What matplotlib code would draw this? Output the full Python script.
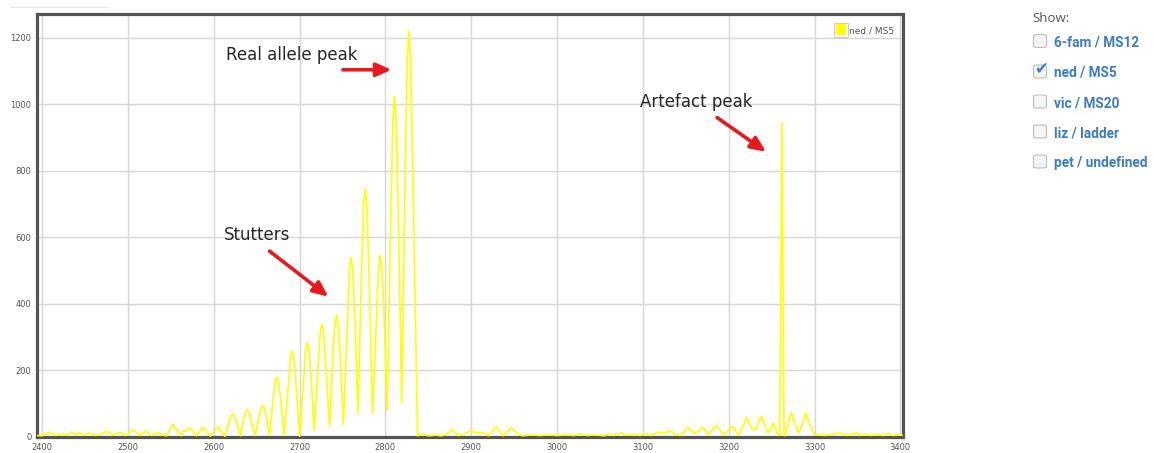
import matplotlib
matplotlib.use("Agg")
import matplotlib.pyplot as plt
from matplotlib.patches import FancyBboxPatch, Rectangle
from matplotlib.lines import Line2D

# ---- data, trace split by region ----
# baseline noise before the stutter ladder
noise_left_bp = [2394, 2400, 2408, 2416, 2424, 2429, 2434, 2439, 2443, 2449, 2455, 2462, 2468,
                 2475, 2482, 2490, 2497, 2506, 2514, 2521, 2528, 2535, 2541, 2545, 2552, 2562,
                 2564, 2567, 2572, 2580, 2587, 2596, 2605, 2613]
noise_left_rfu = [3, 2, 13, 3, 8, 3, 13, 5, 11, 4, 10, 3, 6,
                  16, 4, 13, 3, 20, 3, 16, 3, 11, 4, 2, 36, 2,
                  18, 17, 26, 2, 28, 1, 30, 0]

# stutter peaks and the real allele peak
stutter_bp = [2617.5, 2620, 2622, 2624, 2626.5, 2631,
              2634.5, 2637, 2639, 2641, 2643.5, 2648,
              2652.5, 2655, 2657, 2659, 2661.5, 2665,
              2669, 2671.5, 2673.5, 2675.5, 2678, 2682,
              2687, 2689.4, 2691.4, 2693.4, 2696, 2700,
              2704.5, 2707, 2709, 2711, 2713.5, 2717,
              2721.5, 2724, 2726, 2728, 2730.5, 2735,
              2738.5, 2741, 2743, 2745, 2747.5, 2751,
              2755.5, 2758, 2760, 2762, 2764.5, 2768,
              2772, 2774.5, 2776.5, 2778.5, 2781, 2785,
              2789.5, 2792, 2794, 2796, 2798.5, 2802,
              2806.1, 2808.6, 2810.6, 2812.6, 2815.1, 2819,
              2822.9, 2825.4, 2827.4, 2829.4, 2832.4, 2837.4]
stutter_rfu = [41, 63, 68, 63, 42, 2,
               49, 74, 80, 74, 49, 3,
               57, 86, 93, 86, 57, 3,
               109, 165, 179, 165, 109, 3,
               155, 237, 257, 236, 154, 0,
               169, 259, 282, 261, 176, 18,
               210, 312, 338, 313, 215, 30,
               231, 338, 365, 339, 233, 36,
               338, 499, 539, 502, 351, 68,
               475, 693, 747, 693, 476, 70,
               356, 508, 546, 509, 359, 78,
               646, 949, 1025, 951, 656, 102,
               773, 1131, 1221, 1123, 733, 2]

# baseline noise between the allele and the artefact
noise_mid_bp = [2841, 2844, 2850, 2858, 2866, 2872, 2877.5, 2885, 2892, 2899.6, 2905, 2910,
                2915, 2920, 2929, 2937, 2947, 2955, 2960, 2970, 2980, 2990, 3000, 3010,
                3020, 3027, 3035, 3045, 3055, 3060, 3066, 3075, 3080, 3090, 3097, 3103,
                3110, 3118, 3125, 3132, 3138, 3144, 3152, 3160, 3170, 3176, 3186, 3194,
                3205, 3211]
noise_mid_rfu = [5, 8, 2, 4, 2, 8, 20, 3, 6, 18, 10, 12,
                 10, 2, 30, 2, 26, 6, 2, 5, 3, 5, 3, 5,
                 3, 8, 3, 5, 2, 8, 3, 10, 4, 6, 3, 8,
                 3, 13, 10, 18, 5, 3, 28, 8, 28, 6, 33, 5,
                 31, 3]

# artefact region
artefact_bp = [3217.5, 3220.5, 3223.5, 3228, 3231, 3235, 3238, 3241, 3246, 3252, 3257.5,
               3259.5, 3262, 3264.5, 3266, 3270, 3273, 3276, 3281.5, 3287, 3290, 3293, 3299]
artefact_rfu = [36, 58, 43, 21, 20, 45, 61, 40, 10, 40, 3,
                5, 943, 3, 3, 47, 73, 46, 10, 46, 70, 48, 8]

# baseline noise at the right end
noise_right_bp = [3305, 3312, 3320, 3330, 3337, 3343, 3349, 3353, 3360, 3366, 3372, 3380,
                  3386, 3392, 3400, 3402]
noise_right_rfu = [5, 3, 6, 10, 3, 6, 11, 3, 7, 3, 7, 3, 8, 3, 6, 4]

x_ticks = [2400, 2500, 2600, 2700, 2800, 2900, 3000, 3100, 3200, 3300, 3400]
y_ticks = [0, 200, 400, 600, 800, 1000, 1200]

series_label = "ned / MS5"
channels = ["6-fam / MS12", "ned / MS5", "vic / MS20", "liz / ladder", "pet / undefined"]
checked = [False, True, False, False, False]

size_bp = noise_left_bp + stutter_bp + noise_mid_bp + artefact_bp + noise_right_bp
rfu = noise_left_rfu + stutter_rfu + noise_mid_rfu + artefact_rfu + noise_right_rfu

W, H = 1154, 453
fig = plt.figure(figsize=(W / 100, H / 100), dpi=100)
fig.patch.set_facecolor("white")


def fx(x):
    return x / W


def fy(y):
    return 1 - y / H


ax = fig.add_axes([fx(37), fy(436.5), fx(902.5) - fx(37), fy(14.3) - fy(436.5)])
ax.set_facecolor("white")
ax.plot(size_bp, rfu, color="#ffff00", lw=1.2, zorder=3)
ax.set_xlim(2394, 3402.5)
ax.set_ylim(0, 1271)
ax.set_xticks(x_ticks)
ax.set_yticks(y_ticks)
ax.grid(True, color="#d6d6d6", lw=1.0)
ax.set_axisbelow(True)
ax.tick_params(length=0, labelsize=6, labelcolor="#545454")
ax.tick_params(axis="x", pad=5)
ax.tick_params(axis="y", pad=4)
for s in ax.spines.values():
    s.set_color("#545454")
    s.set_linewidth(2.3)

# legend inside plot
fig.add_artist(Rectangle((fx(834), fy(36.7)), fx(14.3), fy(0) - fy(14), transform=fig.transFigure,
                         facecolor="white", edgecolor="#cccccc", lw=0.8, zorder=5))
fig.add_artist(Rectangle((fx(835.8), fy(34.9)), fx(10.7), fy(0) - fy(10.5), transform=fig.transFigure,
                         facecolor="#ffff00", edgecolor="none", zorder=6))
fig.text(fx(849), fy(30.7), series_label, fontsize=6.5, color="#545454", va="center", ha="left")

# annotations
arrow_kw = dict(arrowstyle="-|>,head_length=0.9,head_width=0.4", lw=2.6, color="#e8191d",
                shrinkA=0, shrinkB=0)
ax.annotate("", xy=(2807, 1104), xytext=(2750.5, 1104), arrowprops=arrow_kw, zorder=6)
ax.annotate("", xy=(2733.5, 421), xytext=(2665, 558), arrowprops=arrow_kw, zorder=6)
ax.annotate("", xy=(3243.5, 857), xytext=(3186.5, 960), arrowprops=arrow_kw, zorder=6)
ax.text(2614, 1149, "Real allele peak", fontsize=12, color="#262626", va="center", ha="left")
ax.text(2612, 606, "Stutters", fontsize=12, color="#262626", va="center", ha="left")
ax.text(3097, 1008, "Artefact peak", fontsize=12, color="#262626", va="center", ha="left")

# faint line top-left
fig.add_artist(Line2D([fx(10), fx(108)], [fy(7), fy(7)], transform=fig.transFigure,
                      color="#e6e6e6", lw=0.8))

# right panel
fig.text(fx(1032), fy(18), "Show:", fontsize=9.5, color="#555555", va="center", ha="left",
         family="Open Sans")
row_y = [41, 71.5, 101.5, 131.5, 161.5]
for lab, yc, chk in zip(channels, row_y, checked):
    fig.add_artist(FancyBboxPatch((fx(1033.5), fy(yc + 6.5)), fx(13), fy(0) - fy(13),
                                  boxstyle="round,pad=0,rounding_size=0.0035",
                                  transform=fig.transFigure, facecolor="#f4f4f4",
                                  edgecolor="#bdbdbd", lw=0.8))
    if chk:
        fig.text(fx(1041.5), fy(yc - 2), "\u2714", fontsize=12, color="#4a7fc0",
                 va="center", ha="center", family="DejaVu Sans")
    fig.text(fx(1054), fy(yc + 1.5), lab, fontsize=9.8, color="#3b7cc0", fontweight="bold",
             va="center", ha="left", family="Roboto")

fig.savefig("out.png", dpi=100, facecolor="white")
